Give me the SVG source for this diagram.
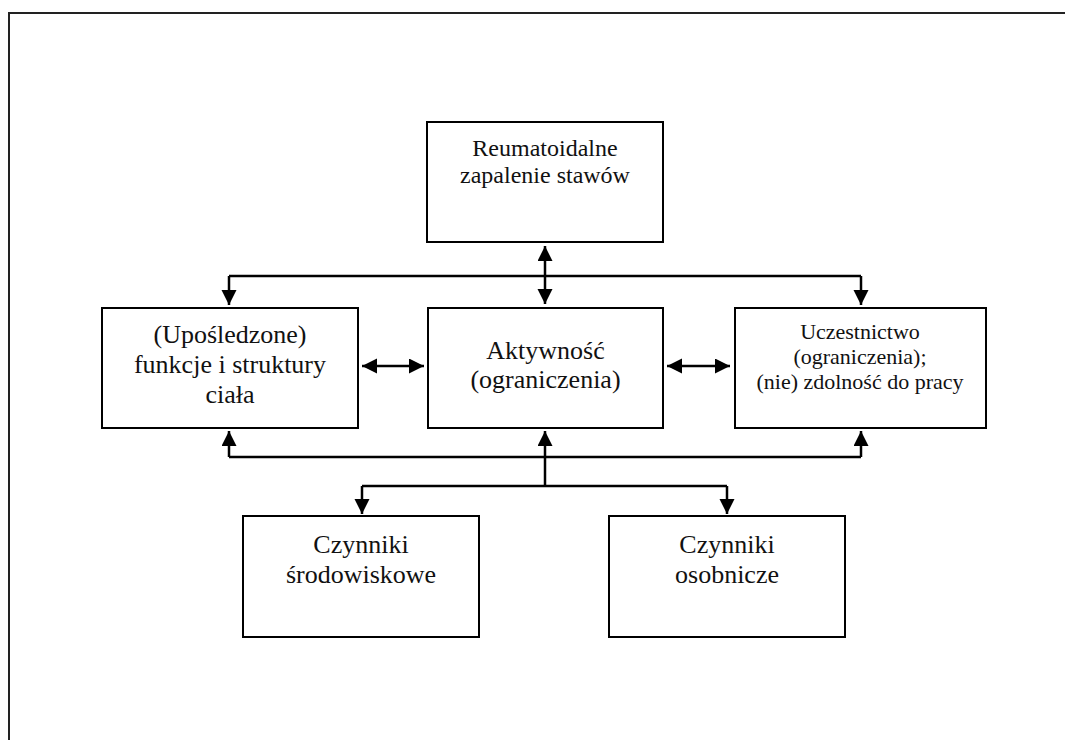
<svg xmlns="http://www.w3.org/2000/svg" width="1065" height="740" viewBox="0 0 1065 740">
<style>
.box{fill:#fff;stroke:#000;stroke-width:2}
text{font-family:'Liberation Serif','Times New Roman','DejaVu Serif',serif;fill:#111;text-anchor:middle}
.c{fill:none;stroke:#000;stroke-width:2.5}
.a{marker-end:url(#ah)}
.aa{marker-start:url(#ah);marker-end:url(#ah)}
</style>
<defs>
<marker id="ah" markerUnits="userSpaceOnUse" markerWidth="16" markerHeight="16" refX="15" refY="7.5" orient="auto-start-reverse" viewBox="0 0 16 16">
<path d="M0,0 L15,7.5 L0,15 z" fill="#000"/>
</marker>
</defs>
<rect width="1065" height="740" fill="#fff"/>
<g id="frame">
<path d="M9,740 V13 H1065" fill="none" stroke="#222" stroke-width="2"/>
</g>
<g id="connectors">
<line class="c aa" x1="545" y1="246" x2="545" y2="304"/>
<path class="c" d="M229,276 H861"/>
<line class="c a" x1="229" y1="276" x2="229" y2="305"/>
<line class="c a" x1="861" y1="276" x2="861" y2="305"/>
<line class="c aa" x1="362" y1="366" x2="424" y2="366"/>
<line class="c aa" x1="667" y1="366" x2="730" y2="366"/>
<path class="c" d="M229,457 H861"/>
<line class="c a" x1="229" y1="457" x2="229" y2="431"/>
<line class="c a" x1="861" y1="457" x2="861" y2="431"/>
<line class="c a" x1="545" y1="486" x2="545" y2="431"/>
<path class="c" d="M362,486 H727"/>
<line class="c a" x1="362" y1="486" x2="362" y2="514"/>
<line class="c a" x1="727" y1="486" x2="727" y2="514"/>
</g>
<g id="rzs">
<rect class="box" x="427" y="122" width="236" height="120"/>
<text font-family="Liberation Serif" font-size="24" x="545" y="156">Reumatoidalne</text>
<text font-family="Liberation Serif" font-size="24" x="545" y="183">zapalenie stawów</text>
</g>
<g id="funkcje">
<rect class="box" x="102" y="308" width="256" height="120"/>
<text font-family="Liberation Serif" font-size="26" x="230" y="343">(Upośledzone)</text>
<text font-family="Liberation Serif" font-size="26" x="230" y="373">funkcje i struktury</text>
<text font-family="Liberation Serif" font-size="26" x="230" y="403">ciała</text>
</g>
<g id="aktywnosc">
<rect class="box" x="428" y="308" width="235" height="120"/>
<text font-family="Liberation Serif" font-size="26" x="545.5" y="359">Aktywność</text>
<text font-family="Liberation Serif" font-size="26" x="545.5" y="388">(ograniczenia)</text>
</g>
<g id="uczestnictwo">
<rect class="box" x="735" y="308" width="251" height="120"/>
<text font-family="Liberation Serif" font-size="22" x="860" y="339">Uczestnictwo</text>
<text font-family="Liberation Serif" font-size="22" x="860" y="364">(ograniczenia);</text>
<text font-family="Liberation Serif" font-size="22" x="860" y="389">(nie) zdolność do pracy</text>
</g>
<g id="srodowiskowe">
<rect class="box" x="243" y="516" width="236" height="121"/>
<text font-family="Liberation Serif" font-size="26" x="361" y="553">Czynniki</text>
<text font-family="Liberation Serif" font-size="26" x="361" y="583">środowiskowe</text>
</g>
<g id="osobnicze">
<rect class="box" x="609" y="516" width="236" height="121"/>
<text font-family="Liberation Serif" font-size="26" x="727" y="553">Czynniki</text>
<text font-family="Liberation Serif" font-size="26" x="727" y="583">osobnicze</text>
</g>
</svg>
